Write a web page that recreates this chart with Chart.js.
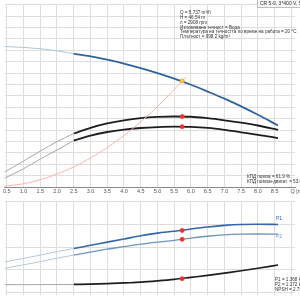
<!DOCTYPE html>
<html>
<head>
<meta charset="utf-8">
<script src="https://cdn.jsdelivr.net/npm/chart.js@4.4.0/dist/chart.umd.min.js"></script>
<style>
  html, body { margin: 0; padding: 0; background: #fff; }
  #wrap { position: relative; width: 300px; height: 300px; overflow: hidden; }
  canvas { position: absolute; left: 0; }
  #top { top: 0; }
  #bottom { top: 197px; }
</style>
</head>
<body>
<div id="wrap">
  <canvas id="top" width="300" height="197"></canvas>
  <canvas id="bottom" width="300" height="103"></canvas>
</div>
<script>
// Flow points, m³/h
const flow = [0.4, 1.0, 1.5, 2.0, 2.5, 3.0, 3.5, 4.0, 4.5, 5.0, 5.5, 6.0, 6.5, 7.0, 7.5, 8.0, 8.6];
// Head, m
const head = [61.7, 61.3, 60.7, 59.8, 58.5, 57.4, 55.9, 54.2, 52.2, 50.0, 47.6, 44.9, 41.9, 38.8, 35.4, 31.7, 27.0];
// Efficiency pump / pump+motor, %
const effPump = [12.5, 22.8, 31.5, 39.8, 47.0, 52.0, 55.8, 58.6, 60.5, 61.5, 61.9, 61.7, 60.4, 58.6, 56.5, 54.0, 50.2];
const effTotal = [7.2, 16.0, 24.5, 32.5, 40.8, 45.2, 48.3, 50.4, 51.8, 52.6, 53.0, 52.8, 51.9, 50.2, 48.0, 45.8, 43.0];
// Power, kW
const powerP1 = [0.67, 0.75, 0.825, 0.90, 0.97, 1.04, 1.11, 1.18, 1.25, 1.31, 1.35, 1.40, 1.445, 1.48, 1.50, 1.505, 1.50];
const powerP2 = [0.53, 0.61, 0.68, 0.755, 0.825, 0.89, 0.955, 1.01, 1.065, 1.11, 1.15, 1.20, 1.24, 1.27, 1.285, 1.29, 1.285];
// NPSH, m
const npsh = [1.55, 1.55, 1.56, 1.58, 1.6, 1.65, 1.75, 1.9, 2.05, 2.3, 2.6, 3.0, 3.4, 3.85, 4.3, 4.8, 5.45];
// System curve
const sysFlow = [0.4, 1.0, 1.5, 2.0, 2.5, 3.0, 3.5, 4.0, 4.5, 5.0, 5.5, 5.737, 5.85];
const sysHead = [0.3, 1.4, 3.2, 5.7, 8.8, 12.7, 17.3, 22.6, 28.6, 35.3, 42.8, 46.54, 48.4];
// Duty point
const dutyQ = 5.737;
const dutyH = 46.54;
const dutyEffPump = 61.9;
const dutyEffTotal = 53.0;
const dutyP1 = 1.368;
const dutyP2 = 1.172;
const dutyNpsh = 2.75;

const infoLines = [
  "Q = 5.737 m³/h",
  "H = 46.54 m",
  "n = 2908 rpm",
  "Изпомпвана течност = Вода",
  "Температура на течността по време на работа = 20 °C",
  "Плътност = 998.2 kg/m³"
];

const FONT = '"Liberation Sans", Arial, sans-serif';
const GRID = "#dedede";
const splitIdx = flow.indexOf(2.5);

const pts = (xs, ys) => xs.map((x, i) => ({ x, y: ys[i] }));
const lightPart = (ys) => pts(flow.slice(0, splitIdx + 1), ys.slice(0, splitIdx + 1));
const darkPart = (ys) => pts(flow.slice(splitIdx), ys.slice(splitIdx));

const line = (data, color, width, axis) => ({
  data,
  borderColor: color,
  borderWidth: width,
  pointRadius: 0,
  cubicInterpolationMode: "monotone",
  fill: false,
  yAxisID: axis,
  order: 2,
});

const dot = (x, y, axis, fill, border) => ({
  data: [{ x, y }],
  showLine: false,
  pointRadius: 2,
  pointBackgroundColor: fill,
  pointBorderColor: border,
  pointBorderWidth: 0.8,
  yAxisID: axis,
  order: 0,
});

// x scale shared by both panels
const xScale = (showLabels) => ({
  type: "linear",
  min: 0.442,
  max: 9.113,
  ticks: {
    display: showLabels,
    stepSize: 0.5,
    includeBounds: false,
    autoSkip: false,
    maxRotation: 0,
    padding: 1,
    color: "#555",
    font: { family: FONT, size: 5.5 },
    callback: (v) => (v >= 9 ? "" : v.toFixed(1)),
  },
  grid: { color: GRID, drawTicks: false },
  border: { display: showLabels, color: "#8a8a8a" },
  afterFit: (s) => {
    s.height = showLabels ? 10 : 0;
    s.paddingLeft = 0;
    s.paddingRight = 0;
  },
});

const yGrid = (min, max, step) => ({
  type: "linear",
  min,
  max,
  ticks: { display: false, stepSize: step, includeBounds: false },
  grid: { color: GRID, drawTicks: false },
  border: { display: false },
  afterFit: (s) => {
    s.width = 0;
    s.paddingTop = 0;
    s.paddingBottom = 0;
  },
});

const baseOptions = {
  responsive: false,
  animation: false,
  layout: { padding: 0 },
  plugins: { legend: { display: false }, tooltip: { enabled: false } },
};

// Text drawn on the upper panel
const topText = {
  id: "topText",
  afterDraw(chart) {
    const ctx = chart.ctx;
    ctx.save();
    ctx.textBaseline = "middle";
    ctx.textAlign = "left";

    ctx.fillStyle = "#f6f6f6";
    ctx.strokeStyle = "#bdbdbd";
    ctx.lineWidth = 1;
    ctx.fillRect(257.5, -0.5, 50, 8);
    ctx.strokeRect(257.5, -0.5, 50, 8);
    ctx.fillStyle = "#333";
    ctx.font = "5px " + FONT;
    ctx.fillText("CR 5-9, 3*400 V, 50Hz", 260, 3.8);

    ctx.font = "4.6px " + FONT;
    infoLines.forEach((t, i) => ctx.fillText(t, 180, 13 + i * 4.8));

    ctx.fillText("КПД помпа = " + dutyEffPump.toFixed(1) + " %", 247, 176.5);
    ctx.fillText("КПД помпа+двигат. = " + dutyEffTotal.toFixed(1) + " %", 247, 181.5);

    ctx.fillStyle = "#555";
    ctx.font = "5.5px " + FONT;
    const xs = chart.scales.x;
    ctx.fillText("Q [m³/h]", xs.getPixelForValue(9.0) - 1, 191.3);
    ctx.restore();
  },
};

const bottomText = {
  id: "bottomText",
  afterDraw(chart) {
    const ctx = chart.ctx;
    ctx.save();
    ctx.textBaseline = "middle";
    ctx.textAlign = "left";
    ctx.font = "5px " + FONT;
    ctx.fillStyle = "#3566a8";
    ctx.fillText("P1", 276, 22);
    ctx.fillStyle = "#6f93c2";
    ctx.fillText("P2", 276, 39.7);
    ctx.fillStyle = "#333";
    ctx.font = "4.6px " + FONT;
    ctx.fillText("P1 = " + dutyP1.toFixed(3) + " kW", 275, 82.5);
    ctx.fillText("P2 = " + dutyP2.toFixed(3) + " kW", 275, 87.5);
    ctx.fillText("NPSH = " + dutyNpsh.toFixed(2) + " m", 275, 92.8);
    ctx.restore();
  },
};

new Chart(document.getElementById("top"), {
  type: "line",
  data: {
    datasets: [
      dot(dutyQ, dutyH, "y", "#ffd21f", "#f0a040"),
      dot(dutyQ, dutyEffPump, "yEta", "#ff2a2a", "#ff2a2a"),
      dot(dutyQ, dutyEffTotal, "yEta", "#ff2a2a", "#ff2a2a"),
      line(pts(sysFlow, sysHead), "#ffb3b3", 1, "y"),
      line(lightPart(head), "#b4c3d9", 1, "y"),
      line(darkPart(head), "#2f64a0", 1.8, "y"),
      line(lightPart(effPump), "#a8a8a8", 1, "yEta"),
      line(darkPart(effPump), "#1e1e1e", 1.8, "yEta"),
      line(lightPart(effTotal), "#a8a8a8", 1, "yEta"),
      line(darkPart(effTotal), "#1e1e1e", 1.8, "yEta"),
    ],
  },
  options: {
    ...baseOptions,
    scales: {
      x: xScale(true),
      y: yGrid(0, 80, 5),
      yEta: { type: "linear", display: false, min: 0, max: 160 },
    },
  },
  plugins: [topText],
});

new Chart(document.getElementById("bottom"), {
  type: "line",
  data: {
    datasets: [
      dot(dutyQ, dutyP1, "y", "#ff2a2a", "#ff2a2a"),
      dot(dutyQ, dutyP2, "y", "#ff2a2a", "#ff2a2a"),
      dot(dutyQ, dutyNpsh, "yNpsh", "#ff2a2a", "#ff2a2a"),
      line(lightPart(powerP1), "#b7c7dd", 1, "y"),
      line(darkPart(powerP1), "#3566a8", 1.6, "y"),
      line(lightPart(powerP2), "#b7c7dd", 1, "y"),
      line(darkPart(powerP2), "#6f93c2", 1.3, "y"),
      line(lightPart(npsh), "#a8a8a8", 1, "yNpsh"),
      line(darkPart(npsh), "#1e1e1e", 1.6, "yNpsh"),
    ],
  },
  options: {
    ...baseOptions,
    scales: {
      x: xScale(false),
      y: yGrid(-0.06, 2.0, 0.5),
      yNpsh: { type: "linear", display: false, min: -0.54, max: 18 },
    },
  },
  plugins: [bottomText],
});
</script>
</body>
</html>
